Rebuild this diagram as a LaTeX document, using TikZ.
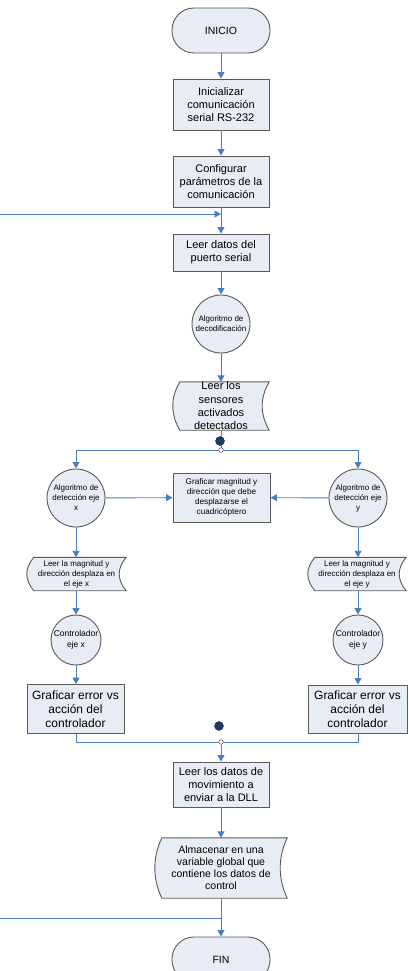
\documentclass[tikz,border=0pt]{standalone}
\usepackage{fontspec}
\setmainfont{Liberation Sans}
\usetikzlibrary{arrows.meta,calc,backgrounds}

\definecolor{flowline}{HTML}{4A7EC0}
\definecolor{boxfill}{HTML}{E8ECF5}
\definecolor{boxedge}{HTML}{5A5A5A}
\definecolor{knot}{HTML}{1F3A68}

\tikzset{
  shapeline/.style={draw=boxedge, line width=0.9pt, fill=boxfill},
  terminal/.style={shapeline, rectangle, rounded corners=22pt, minimum width=98pt,
    minimum height=45pt, inner sep=0pt, font=\fontsize{10.5}{12}\selectfont},
  process/.style={shapeline, rectangle, inner sep=0pt, align=center},
  bigtext/.style={font=\fontsize{11}{13.3}\selectfont},
  hugetext/.style={font=\fontsize{12}{14}\selectfont},
  smalltext/.style={font=\fontsize{8}{10}\selectfont},
  subproc/.style={shapeline, circle, inner sep=0pt, align=center},
  stored/.style={rectangle, inner sep=0pt, align=center},
  storedline/.style={draw=boxedge, line width=0.9pt, fill=boxfill},
  flow/.style={draw=flowline, line width=0.9pt},
  arr/.style={flow, -{Triangle[width=7pt,length=6.5pt]}},
  openknot/.style={circle, draw=boxedge, fill=white, line width=0.6pt, inner sep=0pt, minimum size=4.5pt},
  darkknot/.style={circle, fill=knot, draw=knot!70!black, inner sep=0pt, minimum size=9pt}
}

% outline of a stored-data symbol around a named node (#2 = depth of the curved sides)
\newcommand\storedoutline[2]{%
  \path[storedline] ($(#1.north west)+(#2,0)$) -- (#1.north east)
    .. controls ($(#1.north east)!0.333!(#1.south east)+(-1.333*#2,0)$)
       and ($(#1.north east)!0.667!(#1.south east)+(-1.333*#2,0)$) .. (#1.south east)
    -- ($(#1.south west)+(#2,0)$)
    .. controls ($(#1.north west)!0.667!(#1.south west)+(-0.333*#2,0)$)
       and ($(#1.north west)!0.333!(#1.south west)+(-0.333*#2,0)$) .. ($(#1.north west)+(#2,0)$)
    -- cycle;}

\begin{document}
\begin{tikzpicture}[x=1pt,y=-1pt]
  \useasboundingbox (0,0) rectangle (409,971);
  \clip (0,0) rectangle (409,971);

  % main column
  \node[terminal] (inicio) at (221,30.5) {INICIO};
  \node[process, bigtext, minimum width=96pt, minimum height=51pt] (init) at (221,104.5)
    {Inicializar\\comunicación\\serial RS-232};
  \node[process, bigtext, minimum width=96pt, minimum height=51pt] (conf) at (221,181.5)
    {Configurar\\parámetros de la\\comunicación};
  \node[process, bigtext, minimum width=96pt, minimum height=37pt] (leer) at (221,252.5)
    {Leer datos del\\puerto serial};
  \node[subproc, smalltext, minimum size=58pt] (deco) at (221,324)
    {Algoritmo de\\decodificación};
  \node[stored, bigtext, minimum width=96pt, minimum height=48pt] (sens) at (221,406)
    {Leer los\\sensores\\activados\\detectados};

  % left and right branches
  \node[subproc, smalltext, minimum size=58pt] (algx) at (76,498)
    {Algoritmo de\\detección eje\\x};
  \node[subproc, smalltext, minimum size=58pt] (algy) at (358,498)
    {Algoritmo de\\detección eje\\y};
  \node[process, font=\fontsize{8.2}{10}\selectfont, minimum width=97pt, minimum height=49pt] (graf) at (221.5,497.5)
    {Graficar magnitud y\\dirección que debe\\desplazarse el\\cuadricóptero};
  \node[stored, smalltext, minimum width=99pt, minimum height=33pt] (magx) at (76.5,574)
    {Leer la magnitud y\\dirección desplaza en\\el eje x};
  \node[stored, smalltext, minimum width=98pt, minimum height=33pt] (magy) at (357,574)
    {Leer la magnitud y\\dirección desplaza en\\el eje y};
  \node[subproc, font=\fontsize{8.5}{11}\selectfont, minimum size=50pt] (ctlx) at (76,640)
    {Controlador\\eje x};
  \node[subproc, font=\fontsize{8.5}{11}\selectfont, minimum size=50pt] (ctly) at (358,640)
    {Controlador\\eje y};
  \node[process, hugetext, minimum width=97pt, minimum height=49pt] (errx) at (75.5,709)
    {Graficar error vs\\acción del\\controlador};
  \node[process, hugetext, minimum width=99pt, minimum height=48pt] (erry) at (357.5,709)
    {Graficar error vs\\acción del\\controlador};

  % lower column
  \node[process, bigtext, minimum width=96pt, minimum height=45pt] (dll) at (221,784.5)
    {Leer los datos de\\movimiento a\\enviar a la DLL};
  \node[stored, font=\fontsize{10.5}{12}\selectfont, minimum width=132pt, minimum height=60pt] (alm) at (221,868)
    {Almacenar en una\\variable global que\\contiene los datos de\\control};
  \node[terminal] (fin) at (221,959.5) {FIN};

  % stored-data outlines behind their texts
  \begin{scope}[on background layer]
    \storedoutline{sens}{7}
    \storedoutline{magx}{7}
    \storedoutline{magy}{7}
    \storedoutline{alm}{7}
  \end{scope}

  % junction points
  \coordinate (loopin) at (0,214);
  \coordinate (loopmeet) at (221,214);
  \coordinate (splitL) at (76,450);
  \coordinate (splitR) at (358,450);
  \coordinate (mergeL) at (76,742);
  \coordinate (mergeR) at (358,742);
  \coordinate (loopout) at (0,918);
  \coordinate (loopjoin) at (221,918);

  % connectors of the main column
  \draw[arr] (inicio) -- (init);
  \draw[arr] (init) -- (conf);
  \draw[arr] (conf) -- (leer);
  \draw[arr] (loopin) -- (loopmeet);
  \draw[arr] (leer) -- (deco);
  \draw[arr] (deco) -- (sens);

  % split into both axes
  \draw[flow] (sens.south) -- (221,450);
  \draw[flow] (splitL) -- (splitR);
  \draw[arr] (splitL) -- (algx);
  \draw[arr] (splitR) -- (algy);
  \draw[arr] (algx) -- (graf);
  \draw[arr] (algy) -- (graf);
  \draw[arr] (algx) -- (algx |- magx.north);
  \draw[arr] (algy) -- (algy |- magy.north);
  \draw[arr] (magx.south -| ctlx) -- (ctlx);
  \draw[arr] (magy.south -| ctly) -- (ctly);
  \draw[arr] (ctlx) -- (ctlx |- errx.north);
  \draw[arr] (ctly) -- (ctly |- erry.north);

  % merge and end
  \draw[flow] (errx.south -| mergeL) -- (mergeL) -- (mergeR) -- (erry.south -| mergeR);
  \node[darkknot] (k1) at (220,441) {};
  \node[openknot] (j1) at (221,450) {};
  \node[darkknot] (k2) at (219,726) {};
  \node[openknot] (j2) at (221,742) {};
  \draw[arr] (j2) -- (dll);
  \draw[arr] (dll) -- (alm);
  \draw[flow] (loopout) -- (loopjoin);
  \draw[arr] (alm) -- (fin);
\end{tikzpicture}
\end{document}
